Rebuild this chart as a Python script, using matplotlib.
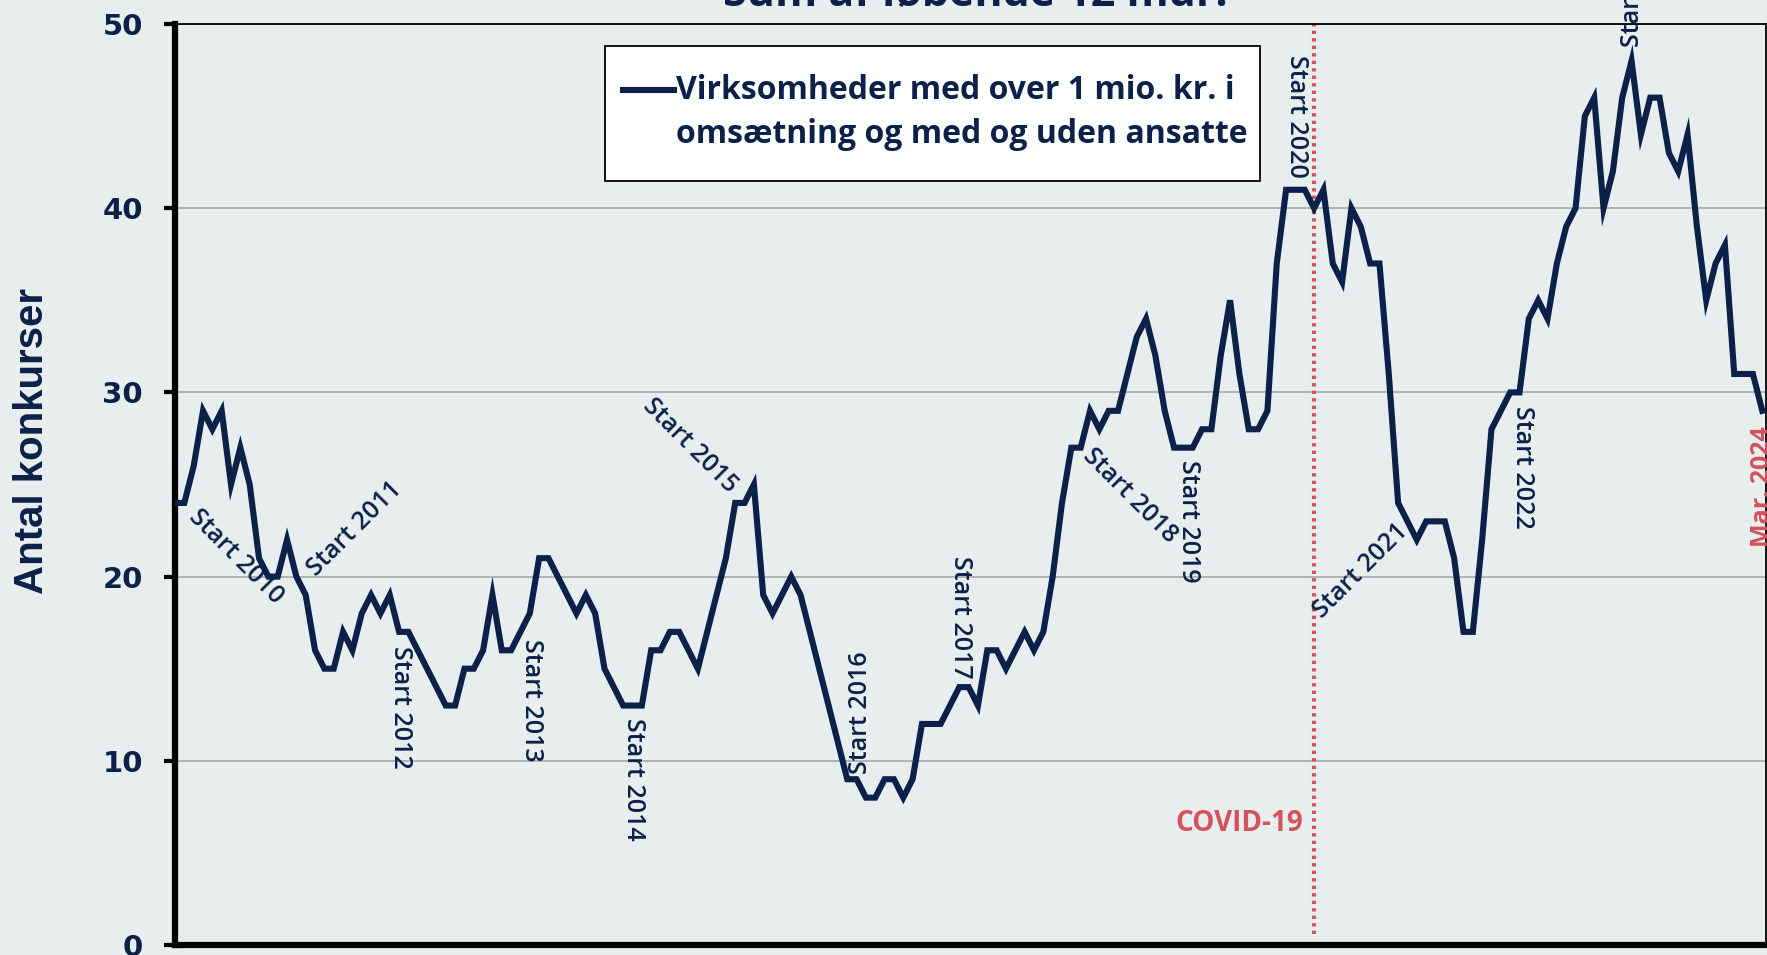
import numpy as np
import matplotlib
matplotlib.use("Agg")
import matplotlib.pyplot as plt
from matplotlib.patches import Rectangle
from matplotlib.lines import Line2D

# Monthly values, Jan 2010 .. Mar 2024 (sum of rolling 12 months)
values = [
    24, 24, 26, 29, 28, 29, 25, 27, 25, 21, 20, 20,   # 2010
    22, 20, 19, 16, 15, 15, 17, 16, 18, 19, 18, 19,   # 2011
    17, 17, 16, 15, 14, 13, 13, 15, 15, 16, 19, 16,   # 2012
    16, 17, 18, 21, 21, 20, 19, 18, 19, 18, 15, 14,   # 2013
    13, 13, 13, 16, 16, 17, 17, 16, 15, 17, 19, 21,   # 2014
    24, 24, 25, 19, 18, 19, 20, 19, 17, 15, 13, 11,   # 2015
    9, 9, 8, 8, 9, 9, 8, 9, 12, 12, 12, 13,           # 2016
    14, 14, 13, 16, 16, 15, 16, 17, 16, 17, 20, 24,   # 2017
    27, 27, 29, 28, 29, 29, 31, 33, 34, 32, 29, 27,   # 2018
    27, 27, 28, 28, 32, 35, 31, 28, 28, 29, 37, 41,   # 2019
    41, 41, 40, 41, 37, 36, 40, 39, 37, 37, 31, 24,   # 2020
    23, 22, 23, 23, 23, 21, 17, 17, 22, 28, 29, 30,   # 2021
    30, 34, 35, 34, 37, 39, 40, 45, 46, 40, 42, 46,   # 2022
    48, 44, 46, 46, 43, 42, 44, 39, 35, 37, 38, 31,   # 2023
    31, 31, 29,                                       # 2024
]
months = np.arange(len(values))
covid_month = 122

# annotation labels: text, month position, value position, rotation
start_labels = ["Start 2010", "Start 2011", "Start 2012", "Start 2013", "Start 2014",
                "Start 2015", "Start 2016", "Start 2017", "Start 2018", "Start 2019",
                "Start 2020", "Start 2021", "Start 2022", "Start 2023"]
label_x = [6.5, 19.2, 24.2, 38.2, 49.1, 55.2, 73.4, 84.1, 102.3, 108.6, 120.1, 127.0, 144.3, 156.1]
label_y = [21.1, 22.6, 12.9, 13.3, 9.0, 27.1, 12.6, 17.8, 24.4, 23.0, 45.0, 20.3, 25.9, 52.1]
label_rot = [-45, 45, -90, -90, -90, -45, 90, -90, -45, -90, -90, 45, -90, 90]

navy = "#0b2149"
red = "#d4515d"
bg = "#e8eeee"

fig = plt.figure(figsize=(17.67, 9.55), dpi=100, facecolor=bg)
ax = fig.add_axes([175 / 1767, 10 / 955, (1766 - 175) / 1767, (945 - 24) / 955])
ax.set_facecolor(bg)

ax.plot(months, values, color=navy, lw=4.4, solid_joinstyle="miter", zorder=3)
ax.axvline(covid_month, ymin=0.012, ymax=1, color=red, lw=3, ls=(0, (0.8, 1.0)), zorder=2)

ax.set_xlim(0, 170.4)
ax.set_ylim(0, 50)
ax.set_xticks([])
ax.set_yticks(range(0, 51, 10))
ax.yaxis.grid(True, color="#a8a8a8", lw=1.2)
ax.set_axisbelow(True)

for s in ["left", "bottom"]:
    ax.spines[s].set_linewidth(4.5)
    ax.spines[s].set_color("black")
for s in ["top", "right"]:
    ax.spines[s].set_linewidth(1.3)
    ax.spines[s].set_color("black")

ax.tick_params(axis="y", length=8, width=3, pad=15, labelsize=21, labelcolor=navy)
for t in ax.get_yticklabels():
    t.set_fontweight("bold")

ax.set_ylabel("Antal konkurser", fontsize=29, fontweight="bold", color=navy,
              family="Liberation Sans")
ax.yaxis.set_label_coords(-0.078, 0.547)

for txt, x, y, r in zip(start_labels, label_x, label_y, label_rot):
    ax.text(x, y, txt, rotation=r, ha="center", va="center", fontsize=18,
            color=navy, family="Open Sans", fontweight="semibold", rotation_mode="anchor")

ax.text(170.0, 24.9, "Mar. 2024", rotation=90, ha="center", va="center", fontsize=18,
        color=red, family="Open Sans", fontweight="bold", rotation_mode="anchor")
ax.text(114.0, 6.6, "COVID-19", ha="center", va="center", fontsize=20,
        color=red, family="Open Sans", fontweight="bold")

# legend box
ax.add_patch(Rectangle((0.2703, 0.8295), 0.682 - 0.2703, 0.9761 - 0.8295,
                       transform=ax.transAxes, facecolor="white", edgecolor="black",
                       lw=1.3, zorder=5))
ax.add_line(Line2D([0.2816, 0.3136], [0.9283, 0.9283], transform=ax.transAxes,
                   color=navy, lw=4.4, zorder=6))
ax.text(0.3149, 0.9283, "Virksomheder med over 1 mio. kr. i", transform=ax.transAxes,
        ha="left", va="center", fontsize=23, fontweight="bold", color=navy,
        family="Open Sans", zorder=6)
ax.text(0.3149, 0.8795, "omsætning og med og uden ansatte", transform=ax.transAxes,
        ha="left", va="center", fontsize=23, fontweight="bold", color=navy,
        family="Open Sans", zorder=6)

fig.text(975 / 1767, 1 - 6 / 955, "Sum af løbende 12 mdr.", ha="center", va="baseline",
         fontsize=31, fontweight="bold", color=navy, family="Open Sans")

fig.savefig("out.png", dpi=100, facecolor=bg)
